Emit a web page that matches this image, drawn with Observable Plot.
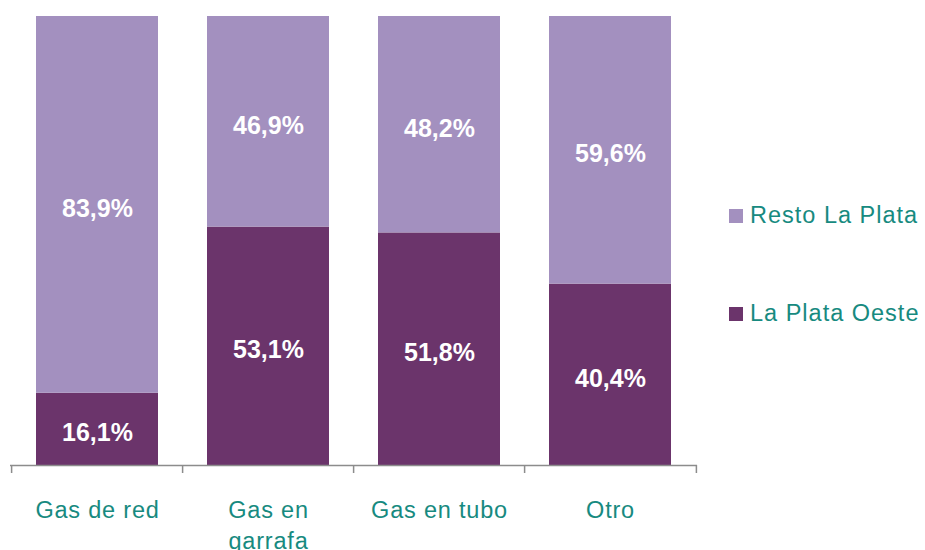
<!DOCTYPE html>
<html>
<head>
<meta charset="utf-8">
<script src="https://cdn.jsdelivr.net/npm/d3@7"></script>
<script src="https://cdn.jsdelivr.net/npm/@observablehq/plot@0.6"></script>
<style>
  html, body { margin: 0; padding: 0; background: #fff; }
  #wrap { position: relative; width: 925px; height: 550px; font-family: "Liberation Sans", Arial, sans-serif; }
  .xlab text { letter-spacing: 0.8px; }
  #legend { position: absolute; left: 729px; top: 0; color: #178a80; font-size: 23.5px; letter-spacing: 1px; }
  .item { position: absolute; left: 0; display: flex; align-items: center; white-space: nowrap; }
  .sw { width: 14px; height: 14px; margin-right: 7px; }
</style>
</head>
<body>
<div id="wrap"></div>
<script>
const categories = ["Gas de red", "Gas en garrafa", "Gas en tubo", "Otro"];
const tickLabels = ["Gas de red", "Gas en\ngarrafa", "Gas en tubo", "Otro"];
const seriesNames = ["La Plata Oeste", "Resto La Plata"];
const oeste = [16.1, 53.1, 51.8, 40.4];
const resto = [83.9, 46.9, 48.2, 59.6];
const colors = ["#6b346b", "#a390bf"];

const rows = [];
categories.forEach((c, i) => {
  rows.push({cat: c, series: seriesNames[0], value: oeste[i]});
  rows.push({cat: c, series: seriesNames[1], value: resto[i]});
});

const W = 925, H = 550, mL = 10, mR = 228, mT = 16, mB = 85;
const pIn = 0.287, pOut = 0.143;
const step = (W - mL - mR) / (categories.length - pIn + 2 * pOut);
const fmt = v => v.toFixed(1).replace(".", ",") + "%";

const chart = Plot.plot({
  width: W, height: H,
  marginLeft: mL, marginRight: mR, marginTop: mT, marginBottom: mB,
  style: {fontFamily: "'Liberation Sans', Arial, sans-serif", background: "#fff"},
  x: {domain: categories, paddingInner: pIn, paddingOuter: pOut, axis: null},
  y: {domain: [0, 100], axis: null},
  color: {domain: seriesNames, range: colors},
  marks: [
    Plot.barY(rows, Plot.stackY({x: "cat", y: "value", fill: "series", z: "series", order: seriesNames})),
    Plot.text(rows, Plot.stackY({x: "cat", y: "value", z: "series", order: seriesNames, text: d => fmt(d.value),
      fill: "white", fontWeight: "bold", fontSize: 25, dy: 4})),
    Plot.ruleY([0], {stroke: "#8c8c8c", strokeWidth: 1.5}),
    Plot.ruleX(categories, {x: d => d, dx: -step / 2, stroke: "#8c8c8c", strokeWidth: 1.5,
      insetTop: H - mT - mB, insetBottom: -8}),
    Plot.ruleX(categories.slice(-1), {x: d => d, dx: step / 2, stroke: "#8c8c8c", strokeWidth: 1.5,
      insetTop: H - mT - mB, insetBottom: -8}),
    Plot.axisX({tickSize: 0, tickPadding: 31, fontSize: 23.5, color: "#178a80", lineHeight: 1.3,
      label: null, className: "xlab", tickFormat: d => tickLabels[categories.indexOf(d)]})
  ]
});
const wrap = document.getElementById("wrap");
wrap.appendChild(chart);

const legend = document.createElement("div");
legend.id = "legend";
const items = [
  {name: seriesNames[1], color: colors[1], top: 202},
  {name: seriesNames[0], color: colors[0], top: 300}
];
items.forEach(it => {
  const d = document.createElement("div");
  d.className = "item";
  d.style.top = it.top + "px";
  d.innerHTML = `<span class="sw" style="background:${it.color}"></span><span>${it.name}</span>`;
  legend.appendChild(d);
});
wrap.appendChild(legend);
</script>
</body>
</html>
